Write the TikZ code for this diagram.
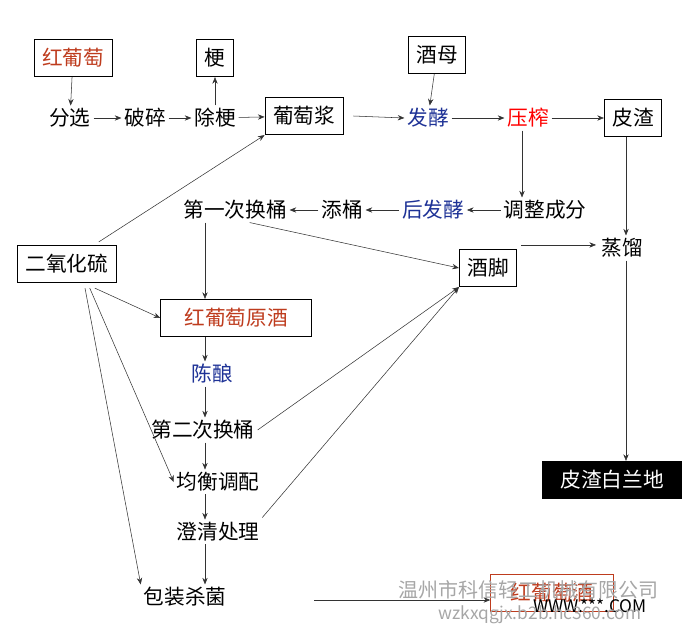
\documentclass[tikz,border=0pt]{standalone}
\usepackage{fontspec}
\setmainfont{Noto Sans CJK SC}
\usetikzlibrary{arrows.meta}
\definecolor{redwine}{RGB}{190,60,30}
\definecolor{ferm}{RGB}{30,50,150}
\begin{document}
\begin{tikzpicture}[x=0.75pt,y=-0.75pt,
    every node/.style={font=\fontsize{15.5}{18}\selectfont, inner sep=2pt},
    box/.style={draw, semithick, minimum height=28pt, inner xsep=6pt},
    flow/.style={draw=black!80, -{Stealth[length=5pt,width=4pt]}}]
    \useasboundingbox (0,0) rectangle (690,626);
    % top row
    \node[box, text=redwine] (hong) at (73,58) {红葡萄};
    \node[box] (geng) at (215,58) {梗};
    \node[box] (jiumu) at (437,55) {酒母};
    \node (fenxuan) at (70,118) {分选};
    \node (posui) at (145,118) {破碎};
    \node (chugeng) at (215,118) {除梗};
    \node[box] (jiang) at (304,116) {葡萄浆};
    \node[text=ferm] (fajiao) at (428,118) {发酵};
    \node[text=red] (yazha) at (528,118) {压榨};
    \node[box] (pizha) at (633,118) {皮渣};
    % second row
    \node (huan1) at (235,210) {第一次换桶};
    \node (tian) at (342,210) {添桶};
    \node[text=ferm] (houfa) at (433,210) {后发酵};
    \node (tiao) at (545,210) {调整成分};
    \node[box] (so2) at (67,264) {二氧化硫};
    \node[box] (jiujiao) at (488,268) {酒脚};
    \node (zhengliu) at (622,248) {蒸馏};
    % left column
    \node[box, text=redwine, minimum width=113pt] (yuanjiu) at (236,318) {红葡萄原酒};
    \node[text=ferm] (chenniang) at (212,374) {陈酿};
    \node (huan2) at (203,430) {第二次换桶};
    \node (junheng) at (218,482) {均衡调配};
    \node (chengqing) at (218,532) {澄清处理};
    \node (baozhuang) at (185,597) {包装杀菌};
    \node[box, fill=black, text=white, minimum width=104pt] (brandy) at (612,480) {皮渣白兰地};
    \node[box, draw=redwine, text=redwine, minimum width=92pt] (hongjiu) at (552,593) {红葡萄酒};
    \node[font=\fontsize{13}{15}\selectfont\rmfamily] (www) at (590,606) {WWW.***.COM};
    % watermark
    \node[text=black!35, font=\fontsize{15}{17}\selectfont] (wm1) at (528,590) {温州市科信轻工机械有限公司};
    \node[text=black!35, font=\fontsize{13}{15}\selectfont] (wm2) at (540,615) {wzkxqgjx.b2b.hc360.com};

    \draw[flow] (hong) -- (fenxuan);
    \draw[flow] (fenxuan) -- (posui);
    \draw[flow] (posui) -- (chugeng);
    \draw[flow] (chugeng) -- (jiang);
    \draw[flow] (chugeng) -- (geng);
    \draw[flow] (jiang.east) ++(10,0) -- (fajiao.west);
    \draw[flow] (jiumu) -- (fajiao);
    \draw[flow] (fajiao) -- (yazha);
    \draw[flow] (yazha) -- (pizha);
    \draw[flow] (yazha.south -| 522,0) -- (tiao.north -| 522,0);
    \draw[flow] (tiao) -- (houfa);
    \draw[flow] (houfa) -- (tian);
    \draw[flow] (tian) -- (huan1);
    \draw[flow] (pizha.south -| 626,0) -- (zhengliu.north -| 626,0);
    \draw[flow] (jiujiao.north east) ++(4,-4) -- ++(75,0);
    \draw[flow] (zhengliu.south -| 626,0) -- (brandy.north -| 626,0);
    \draw[flow] (so2.north east) ++(-18,-3) -- (jiang.south west);
    \draw[flow] (huan1.south east) ++(-40,0) -- (jiujiao.west);
    \draw[flow] (huan1.south -| 205,0) -- (yuanjiu.north -| 205,0);
    \draw[flow] (so2.south east) ++(-22,5) -- (yuanjiu.west);
    \draw[flow] (so2.south east) ++(-27,5) -- (junheng.west);
    \draw[flow] (so2.south) ++(18,5) -- (baozhuang.north west);
    \draw[flow] (yuanjiu.south -| 205,0) -- (chenniang.north -| 205,0);
    \draw[flow] (chenniang.south -| 205,0) -- (huan2.north -| 205,0);
    \draw[flow] (huan2.south -| 205,0) -- (junheng.north -| 205,0);
    \draw[flow] (junheng.south -| 205,0) -- (chengqing.north -| 205,0);
    \draw[flow] (chengqing.south -| 205,0) -- (baozhuang.north -| 205,0);
    \draw[flow] (huan2.east) -- (jiujiao.south west);
    \draw[flow] (chengqing.north east) ++(0,-2) -- (jiujiao.south west);
    \draw[flow] (baozhuang.east) ++(85,3) -- (hongjiu.west |- 0,600);
\end{tikzpicture}
\end{document}
